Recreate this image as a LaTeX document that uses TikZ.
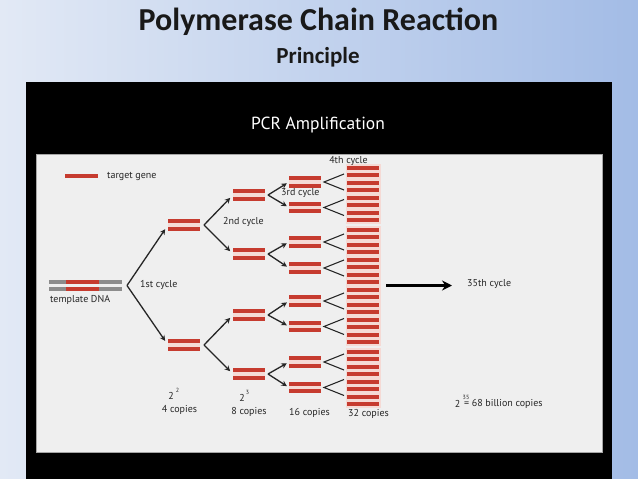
\documentclass[tikz,border=0pt]{standalone}
\usepackage{fontspec}
\setmainfont{PT Sans}
\newfontfamily\titlefont{Carlito}
\usetikzlibrary{arrows.meta,calc}
\definecolor{barred}{HTML}{C63B2F}
\definecolor{halo}{HTML}{F5DAD5}
\definecolor{dnagray}{HTML}{8C8C8C}
\definecolor{txt}{HTML}{262626}
\definecolor{panel}{HTML}{EFEFEF}
\definecolor{bgl}{HTML}{E2E9F5}
\definecolor{bgr}{HTML}{A3BCE6}
\begin{document}
\begin{tikzpicture}[x=1pt,y=-1pt,
  pairnode/.style={minimum width=32pt,minimum height=11.5pt,inner sep=0pt,outer sep=0pt,fill=halo,
    path picture={\fill[barred] (path picture bounding box.north west) rectangle ([yshift=-4pt]path picture bounding box.north east);
                  \fill[barred] ([yshift=4pt]path picture bounding box.south west) rectangle (path picture bounding box.south east);}},
  tmplnode/.style={minimum width=73pt,minimum height=11pt,inner sep=0pt,outer sep=0pt,
    path picture={\fill[dnagray] (path picture bounding box.north west) rectangle ([yshift=-4pt]path picture bounding box.north east);
                  \fill[dnagray] ([yshift=4pt]path picture bounding box.south west) rectangle (path picture bounding box.south east);
                  \fill[barred] ([xshift=17pt]path picture bounding box.north west) rectangle ([xshift=50pt,yshift=-4pt]path picture bounding box.north west);
                  \fill[barred] ([xshift=17pt,yshift=4pt]path picture bounding box.south west) rectangle ([xshift=50pt]path picture bounding box.south west);}},
  lbl/.style={font=\fontsize{10}{11}\selectfont, text=txt, inner sep=0pt},
  sup/.style={font=\fontsize{6}{7}\selectfont, text=txt, inner sep=0pt},
  arr/.style={draw=black!85, line width=1.3pt, -{Stealth[length=5.5pt,width=5.5pt]}},
  fork/.style={draw=black!85, line width=1.1pt},
  bigarr/.style={draw=black, line width=2.2pt, -{Stealth[length=10pt,width=10pt]}},
]
\useasboundingbox (0,0) rectangle (638,479);
\shade[left color=bgl,right color=bgr] (0,0) rectangle (638,479);

% titles
\node[font=\titlefont\bfseries\fontsize{32}{34}\selectfont, text=black!90] (title) at (318.5,22) {Polymerase Chain Reaction};
\node[font=\titlefont\bfseries\fontsize{23}{25}\selectfont, text=black!90] (sub) at (318,57) {Principle};

% black frame and panel
\fill[black] (26,82) rectangle (612,479);
\node[white, font=\fontsize{17.5}{19}\selectfont, inner sep=0pt] (pcr) at (318,125) {PCR Amplification};
\filldraw[fill=panel, draw=gray!70, line width=0.6pt] (36,154) rectangle (602,452);

% legend
\node[minimum width=33pt, minimum height=4pt, inner sep=0pt, fill=barred] (leg) at (81.5,176) {};
\node[lbl, anchor=west] (legt) at (107,176) {target gene};

% template
\node[tmplnode] (tmpl) at (85.5,285.5) {};
\node[lbl, anchor=west] (tmplt) at (50,300) {template DNA};
\coordinate (v0) at (127,285.5);
\node[lbl, anchor=west] (c1) at (140,284.5) {1st cycle};

% level 1
\node[pairnode] (p1a) at (184,225) {};
\node[pairnode] (p1b) at (184,345) {};
\draw[arr, shorten >=5pt] (v0) -- (p1a.west);
\draw[arr, shorten >=5pt] (v0) -- (p1b.west);

% level 2
\node[pairnode] (p2a) at (249,195) {};
\node[pairnode] (p2b) at (249,254) {};
\node[pairnode] (p2c) at (249,315) {};
\node[pairnode] (p2d) at (249,374) {};
\node[lbl, anchor=west] (c2) at (223,222) {2nd cycle};
\coordinate (v1a) at (204,225);
\coordinate (v1b) at (204,345);
\draw[arr, shorten >=4pt] (v1a) -- (p2a.west);
\draw[arr, shorten >=4pt] (v1a) -- (p2b.west);
\draw[arr, shorten >=4pt] (v1b) -- (p2c.west);
\draw[arr, shorten >=4pt] (v1b) -- (p2d.west);

% level 3
\node[pairnode] (p3a) at (305,182) {};
\node[pairnode] (p3b) at (305,207.5) {};
\node[pairnode] (p3c) at (305,242) {};
\node[pairnode] (p3d) at (305,268) {};
\node[pairnode] (p3e) at (305,301) {};
\node[pairnode] (p3f) at (305,326.5) {};
\node[pairnode] (p3g) at (305,362) {};
\node[pairnode] (p3h) at (305,387.5) {};
\node[lbl, anchor=west] (c3) at (281,193.5) {3rd cycle};
\foreach \s/\a/\b in {a/a/b, b/c/d, c/e/f, d/g/h}{
  \coordinate (v2\s) at ($(p2\s.east)+(3,0)$);
  \draw[arr, shorten >=2.5pt] (v2\s) -- (p3\a.west);
  \draw[arr, shorten >=2.5pt] (v2\s) -- (p3\b.west);
}

% level 4 column
\node[minimum width=32pt, minimum height=240pt, inner sep=0pt] (col) at (363,285.5) {};
\foreach \g in {167.5,229.5,289.5,351.5}{
  \fill[halo] (345.5,\g-4) rectangle (380.5,\g+56.5);
  \foreach \k in {0,...,7}
    \fill[barred] (347,\g+7.5*\k-2) rectangle (379,\g+7.5*\k+2);
}
\node[lbl] (c4) at (348.5,160.5) {4th cycle};
\foreach \n in {a,b,c,d,e,f,g,h}{
  \draw[fork] ($(p3\n.east)+(23,-8)$) -- ($(p3\n.east)+(3,0)$) -- ($(p3\n.east)+(23,8)$);
}

% 35th cycle
\node[lbl, anchor=west] (c35) at (467,284) {35th cycle};
\draw[bigarr, shorten <=7pt, shorten >=15pt] (col.east) -- (col.east -| c35.west);

% counts
\node[lbl] (e2) at (171,395.5) {2};
\node[sup] (e2s) at (177.5,390.5) {2};
\node[lbl] (n4) at (179.5,410) {4 copies};
\node[lbl] (e3) at (242,398) {2};
\node[sup] (e3s) at (247.5,392.5) {3};
\node[lbl] (n8) at (249,412) {8 copies};
\node[lbl] (n16) at (309.5,413) {16 copies};
\node[lbl] (n32) at (368.5,413.5) {32 copies};
\node[lbl] (e35) at (457.5,404) {2};
\node[sup] (e35s) at (466,397) {35};
\node[lbl, anchor=west] (n35) at (464,404) {= 68 billion copies};
\end{tikzpicture}
\end{document}
